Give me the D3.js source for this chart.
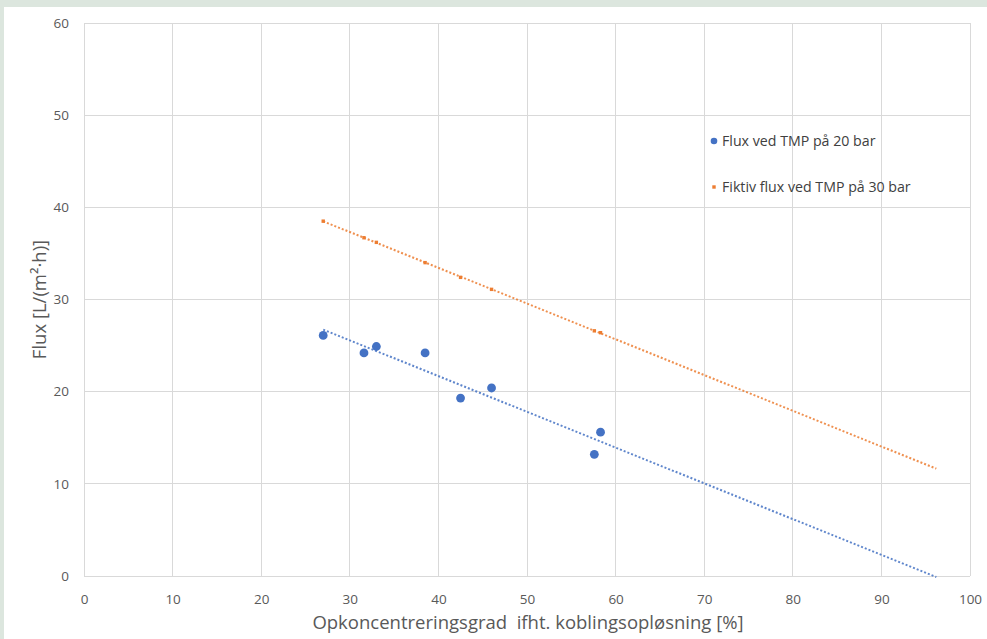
<!DOCTYPE html>
<html><head><meta charset="utf-8">
<script src="https://cdn.jsdelivr.net/npm/d3@7"></script>
<style>
html,body{margin:0;padding:0;background:#dce6de;}
svg{display:block;}
text{font-family:"Open Sans","Noto Sans",Arial,sans-serif;}
</style></head>
<body>
<svg id="chart" width="987" height="639"></svg>
<script>
// ---- data ----
const concentration = [27.0, 31.6, 33.0, 38.5, 42.5, 46.0, 57.6, 58.3];
const flux20 = [26.1, 24.2, 24.9, 24.2, 19.3, 20.4, 13.2, 15.6];
const flux30 = [38.5, 36.7, 36.2, 34.0, 32.4, 31.1, 26.6, 26.4];
const seriesNames = ["Flux ved TMP på 20 bar", "Fiktiv flux ved TMP på 30 bar"];
const xTicks = [0, 10, 20, 30, 40, 50, 60, 70, 80, 90, 100];
const yTicks = [0, 10, 20, 30, 40, 50, 60];
const trendForecastEnd = 96.2;
const xTitle = "Opkoncentreringsgrad\u00a0 ifht. koblingsopløsning [%]";
const yTitle = "Flux [L/(m²·h)]";

const svg = d3.select("#chart");
// white panel
svg.append("rect").attr("x", 4).attr("y", 7).attr("width", 983).attr("height", 632).attr("fill", "#ffffff");

const m = {l: 84, r: 970, t: 23, b: 576};
const x = d3.scaleLinear().domain([0, 100]).range([m.l, m.r]);
const y = d3.scaleLinear().domain([0, 60]).range([m.b, m.t]);

// gridlines
const g = svg.append("g");
g.selectAll(".vg").data(xTicks).join("line")
  .attr("x1", d => x(d)).attr("x2", d => x(d)).attr("y1", m.t).attr("y2", m.b)
  .attr("stroke", "#d9d9d9").attr("stroke-width", 1).attr("shape-rendering", "crispEdges");
g.selectAll(".hg").data(yTicks).join("line")
  .attr("x1", m.l).attr("x2", m.r).attr("y1", d => y(d)).attr("y2", d => y(d))
  .attr("stroke", "#d9d9d9").attr("stroke-width", 1).attr("shape-rendering", "crispEdges");

// axes labels via d3 axes
const xAxis = svg.append("g").attr("transform", `translate(0,${m.b})`)
  .call(d3.axisBottom(x).tickValues(xTicks).tickSize(0).tickPadding(18));
xAxis.select(".domain").remove();
xAxis.selectAll("text").attr("fill", "#595959").style("font-size", "13.5px")
  .style("font-family", "'Open Sans',Arial,sans-serif");

const yAxis = svg.append("g").attr("transform", `translate(${m.l},0)`)
  .call(d3.axisLeft(y).tickValues(yTicks).tickSize(0).tickPadding(15));
yAxis.select(".domain").remove();
yAxis.selectAll("text").attr("fill", "#595959").style("font-size", "13.5px")
  .style("font-family", "'Open Sans',Arial,sans-serif");

// axis titles
svg.append("text").attr("x", (m.l + m.r) / 2 + 1).attr("y", 629)
  .attr("text-anchor", "middle").attr("fill", "#595959").style("font-size", "18.5px").text(xTitle);
svg.append("text").attr("transform", `translate(46,${y(30)}) rotate(-90)`)
  .attr("text-anchor", "middle").attr("fill", "#595959").style("font-size", "18.5px").text(yTitle);

// regression trendlines
function fit(xs, ys) {
  const mx = d3.mean(xs), my = d3.mean(ys);
  const sxy = d3.sum(xs, (v, i) => (v - mx) * (ys[i] - my));
  const sxx = d3.sum(xs, v => (v - mx) ** 2);
  const s = sxy / sxx;
  return v => my + s * (v - mx);
}
const colors = ["#4472c4", "#ed7d31"];
const series = [flux20, flux30];
const x0 = d3.min(concentration);
series.forEach((ys, i) => {
  const f = fit(concentration, ys);
  svg.append("line")
    .attr("x1", x(x0)).attr("y1", y(f(x0)))
    .attr("x2", x(trendForecastEnd)).attr("y2", y(f(trendForecastEnd)))
    .attr("stroke", colors[i]).attr("stroke-width", 2).attr("stroke-dasharray", "2,2")
    .attr("opacity", 0.85);
});

// points
svg.append("g").selectAll("circle").data(concentration).join("circle")
  .attr("cx", d => x(d)).attr("cy", (d, i) => y(flux20[i])).attr("r", 4.4)
  .attr("fill", colors[0]);
svg.append("g").selectAll("rect").data(concentration).join("rect")
  .attr("x", d => x(d) - 1.7).attr("y", (d, i) => y(flux30[i]) - 1.7)
  .attr("width", 3.4).attr("height", 3.4).attr("fill", colors[1]);

// legend
const lg = svg.append("g");
const legY = [141, 187];
seriesNames.forEach((name, i) => {
  if (i === 0) lg.append("circle").attr("cx", 714).attr("cy", legY[i]).attr("r", 3.3).attr("fill", colors[0]);
  else lg.append("rect").attr("x", 712.3).attr("y", legY[i] - 1.7).attr("width", 3.4).attr("height", 3.4).attr("fill", colors[1]);
  lg.append("text").attr("x", 722).attr("y", legY[i]).attr("dy", "0.35em")
    .attr("fill", "#404040").style("font-size", "14.2px").text(name);
});
</script>
</body></html>
